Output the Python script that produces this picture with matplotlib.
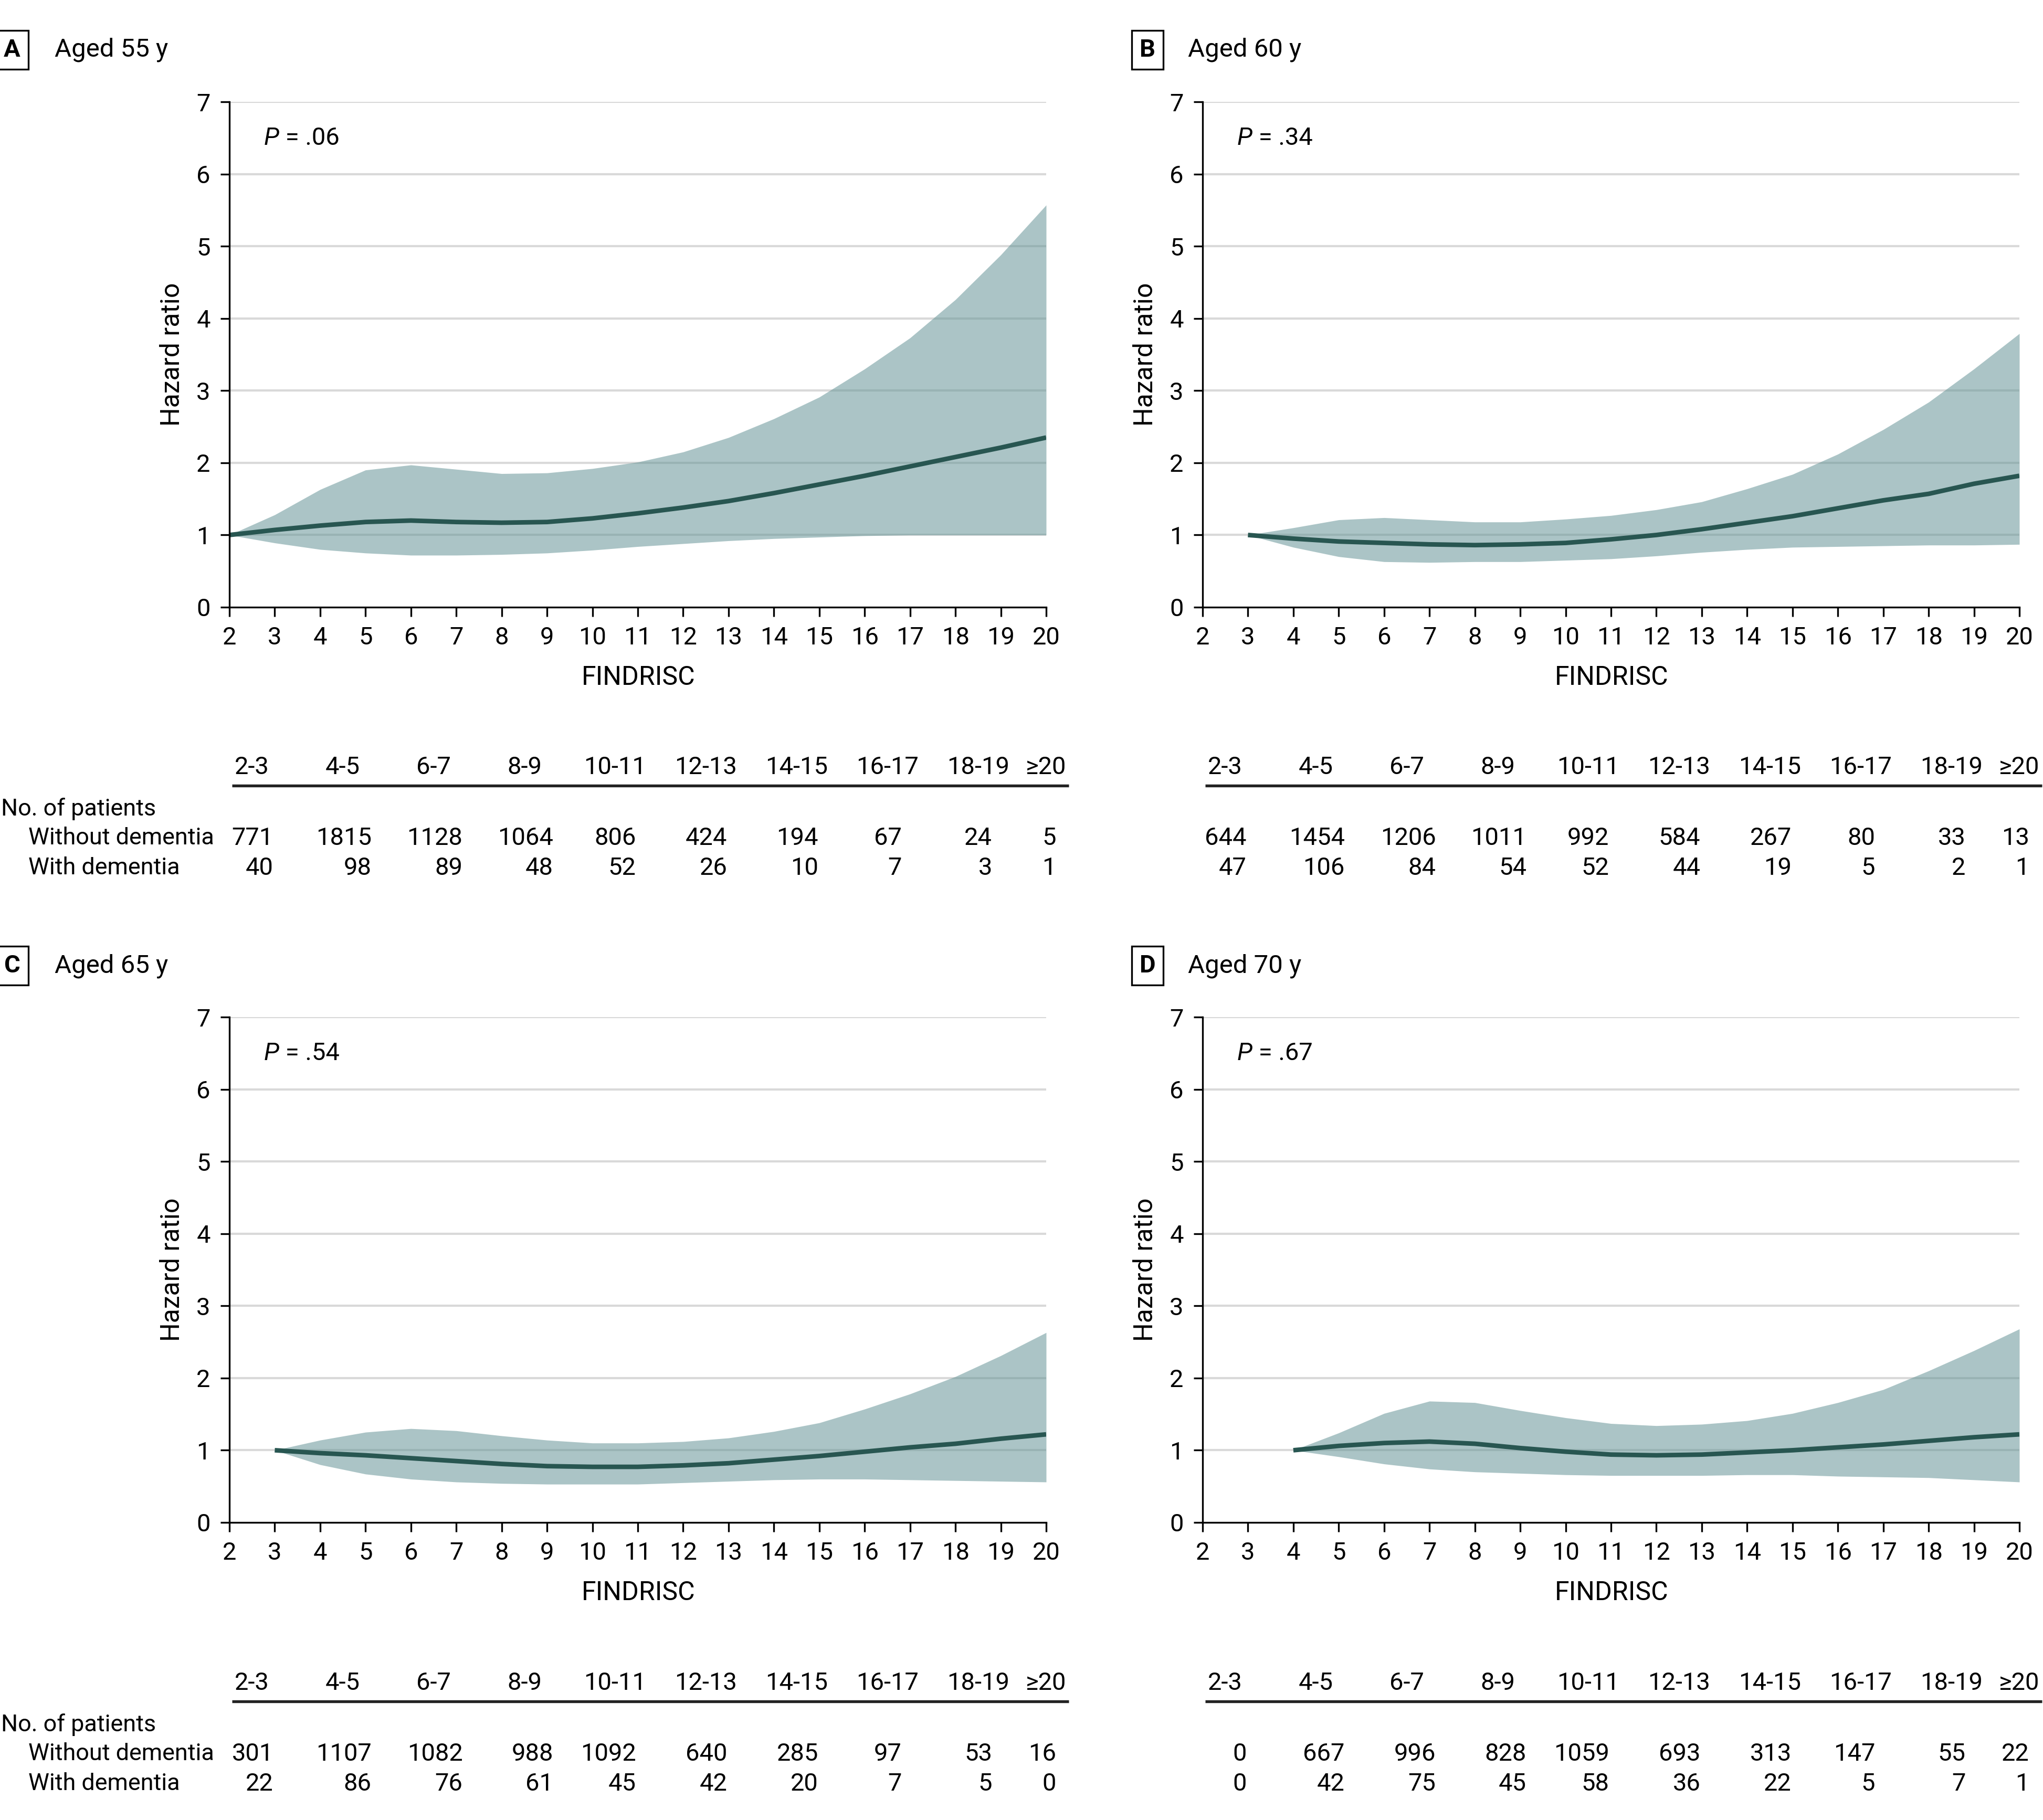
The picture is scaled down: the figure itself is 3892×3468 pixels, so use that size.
import matplotlib
matplotlib.use("Agg")
import matplotlib.pyplot as plt
import matplotlib.font_manager as fm
import matplotlib.transforms as mtransforms

# ---------------- font selection ----------------
_names = {f.name for f in fm.fontManager.ttflist}
FAM = "Roboto" if "Roboto" in _names else "DejaVu Sans"
plt.rcParams["font.family"] = [FAM, "DejaVu Sans"]

# ---------------- data ----------------
findrisc = list(range(2, 21))

# Panel A (aged 55 y), x = 2..20
a_hr = [1.00, 1.07, 1.13, 1.18, 1.20, 1.18, 1.17, 1.18, 1.23, 1.30, 1.38, 1.47, 1.58, 1.70, 1.82, 1.95, 2.08, 2.21, 2.35]
a_hi = [1.00, 1.28, 1.63, 1.90, 1.97, 1.91, 1.85, 1.86, 1.92, 2.01, 2.15, 2.35, 2.61, 2.91, 3.30, 3.73, 4.26, 4.88, 5.57]
a_lo = [1.00, 0.89, 0.80, 0.75, 0.72, 0.72, 0.73, 0.75, 0.79, 0.84, 0.88, 0.92, 0.95, 0.97, 0.99, 1.00, 1.00, 1.00, 1.00]

# Panel B (aged 60 y), x = 3..20
b_hr = [1.00, 0.95, 0.91, 0.89, 0.87, 0.86, 0.87, 0.89, 0.94, 1.00, 1.08, 1.17, 1.26, 1.37, 1.48, 1.57, 1.71, 1.82]
b_hi = [1.00, 1.10, 1.21, 1.24, 1.21, 1.18, 1.18, 1.22, 1.27, 1.35, 1.46, 1.64, 1.84, 2.12, 2.46, 2.84, 3.30, 3.79]
b_lo = [1.00, 0.83, 0.70, 0.63, 0.62, 0.63, 0.63, 0.65, 0.67, 0.71, 0.76, 0.80, 0.83, 0.84, 0.85, 0.86, 0.86, 0.87]

# Panel C (aged 65 y), x = 3..20
c_hr = [1.00, 0.96, 0.93, 0.89, 0.85, 0.81, 0.78, 0.77, 0.77, 0.79, 0.82, 0.87, 0.92, 0.98, 1.04, 1.09, 1.16, 1.22]
c_hi = [1.00, 1.14, 1.25, 1.30, 1.27, 1.20, 1.14, 1.10, 1.10, 1.12, 1.17, 1.26, 1.38, 1.57, 1.78, 2.02, 2.31, 2.63]
c_lo = [1.00, 0.80, 0.67, 0.60, 0.56, 0.54, 0.53, 0.53, 0.53, 0.55, 0.57, 0.59, 0.60, 0.60, 0.59, 0.58, 0.57, 0.56]

# Panel D (aged 70 y), x = 4..20
d_hr = [1.00, 1.06, 1.10, 1.12, 1.09, 1.03, 0.98, 0.94, 0.93, 0.94, 0.97, 1.00, 1.04, 1.08, 1.13, 1.18, 1.22]
d_hi = [1.00, 1.24, 1.51, 1.68, 1.66, 1.55, 1.45, 1.37, 1.34, 1.36, 1.41, 1.51, 1.66, 1.84, 2.10, 2.38, 2.68]
d_lo = [1.00, 0.91, 0.81, 0.74, 0.70, 0.68, 0.66, 0.65, 0.65, 0.65, 0.66, 0.66, 0.64, 0.63, 0.62, 0.59, 0.56]

score_groups = ["2-3", "4-5", "6-7", "8-9", "10-11", "12-13", "14-15", "16-17", "18-19", "\u226520"]

a_without = [771, 1815, 1128, 1064, 806, 424, 194, 67, 24, 5]
a_with = [40, 98, 89, 48, 52, 26, 10, 7, 3, 1]
b_without = [644, 1454, 1206, 1011, 992, 584, 267, 80, 33, 13]
b_with = [47, 106, 84, 54, 52, 44, 19, 5, 2, 1]
c_without = [301, 1107, 1082, 988, 1092, 640, 285, 97, 53, 16]
c_with = [22, 86, 76, 61, 45, 42, 20, 7, 5, 0]
d_without = [0, 667, 996, 828, 1059, 693, 313, 147, 55, 22]
d_with = [0, 42, 75, 45, 58, 36, 22, 5, 7, 1]

panel_letters = ["A", "B", "C", "D"]
panel_titles = ["Aged 55 y", "Aged 60 y", "Aged 65 y", "Aged 70 y"]
p_values = [".06", ".34", ".54", ".67"]

# ---------------- style / layout ----------------
FS = 11.3
FS_LAB = 12.0
FS_ROW = 10.8
LINE_C = "#285651"
FILL_C = "#669597"
FILL_A = 0.55
GRID_C = "#d9d9d9"

W, H = 3892, 3468
fig = plt.figure(figsize=(W / 300, H / 300), dpi=300)

ax_left = [437 / W, 2291 / W]
ax_w = 1556 / W
ax_bottom = [1 - 1157 / H, 1 - 2901 / H]
ax_h = 963 / H
dy_row = 1745 / H

header_x = [2.5, 4.5, 6.5, 8.5, 10.5, 12.5, 14.5, 16.5, 18.5, 20.0]
num_right_x = [2.97, 5.13, 7.14, 9.14, 10.96, 12.97, 14.98, 16.82, 18.81, 20.22]

panels = [
    (findrisc, a_hr, a_hi, a_lo, a_without, a_with),
    (findrisc[1:], b_hr, b_hi, b_lo, b_without, b_with),
    (findrisc[1:], c_hr, c_hi, c_lo, c_without, c_with),
    (findrisc[2:], d_hr, d_hi, d_lo, d_without, d_with),
]

for i, (xs, hr, hi, lo, n_wo, n_w) in enumerate(panels):
    col, row = i % 2, i // 2
    ax = fig.add_axes([ax_left[col], ax_bottom[row], ax_w, ax_h])
    ax.set_xlim(2, 20)
    ax.set_ylim(0, 7)
    ax.set_xticks(range(2, 21))
    ax.set_yticks(range(0, 8))
    for yv in range(1, 8):
        ax.axhline(yv, color=GRID_C, lw=1.0, zorder=0)
    ax.fill_between(xs, lo, hi, color=FILL_C, alpha=FILL_A, lw=0, zorder=1)
    ax.plot(xs, hr, color=LINE_C, lw=2.1, solid_capstyle="butt", zorder=3)

    for s in ["top", "right"]:
        ax.spines[s].set_visible(False)
    for s in ["left", "bottom"]:
        ax.spines[s].set_linewidth(0.8)
        ax.spines[s].set_zorder(4)
    ax.tick_params(axis="both", direction="out", length=4.2, width=0.8,
                   labelsize=FS, pad=4.5)
    ax.set_axisbelow(False)

    ax.text(-0.070, 0.5, "Hazard ratio", rotation=90, ha="center", va="center",
            transform=ax.transAxes, fontsize=FS_LAB)
    ax.text(0.5006, -0.139, "FINDRISC", ha="center", va="center",
            transform=ax.transAxes, fontsize=FS_LAB)

    t = ax.text(2.76, 6.5, "P", style="italic", ha="left", va="center", fontsize=FS)
    ax.annotate(" = " + p_values[i], xy=(1, 0), xycoords=t, ha="left", va="bottom",
                fontsize=FS)

    # panel label
    yb = 1 - 108 / H - row * dy_row
    bx = [23 / W, 2186 / W][col]
    tx = [104 / W, 2263 / W][col]
    fig.text(bx, yb, panel_letters[i], fontsize=FS, fontweight="bold", ha="center",
             va="baseline",
             bbox=dict(boxstyle="square,pad=0.32", fc="white", ec="black", lw=0.8))
    fig.text(tx, yb, panel_titles[i], fontsize=FS + 0.5, ha="left", va="baseline")

    # patient-count table
    trans = mtransforms.blended_transform_factory(ax.transData, fig.transFigure)
    y_head = 1 - 1462 / H - row * dy_row
    y_line = 1 - 1497 / H - row * dy_row
    y_no = 1 - 1541 / H - row * dy_row
    y_wo = 1 - 1597 / H - row * dy_row
    y_w = 1 - 1654 / H - row * dy_row
    for hx, lab in zip(header_x, score_groups):
        fig.text(hx, y_head, lab, transform=trans, ha="center", va="center", fontsize=FS)
    ax.plot([2.06, 20.5], [y_line, y_line], transform=trans, color="#222222",
            lw=1.3, clip_on=False, solid_capstyle="butt")
    for nx, v1, v2 in zip(num_right_x, n_wo, n_w):
        fig.text(nx, y_wo, str(v1), transform=trans, ha="right", va="center", fontsize=FS)
        fig.text(nx, y_w, str(v2), transform=trans, ha="right", va="center", fontsize=FS)
    if col == 0:
        fig.text(2 / W, y_no, "No. of patients", ha="left", va="center", fontsize=FS_ROW)
        fig.text(54 / W, y_wo, "Without dementia", ha="left", va="center", fontsize=FS_ROW)
        fig.text(54 / W, y_w, "With dementia", ha="left", va="center", fontsize=FS_ROW)

fig.savefig("out.png", dpi=300, facecolor="white")
